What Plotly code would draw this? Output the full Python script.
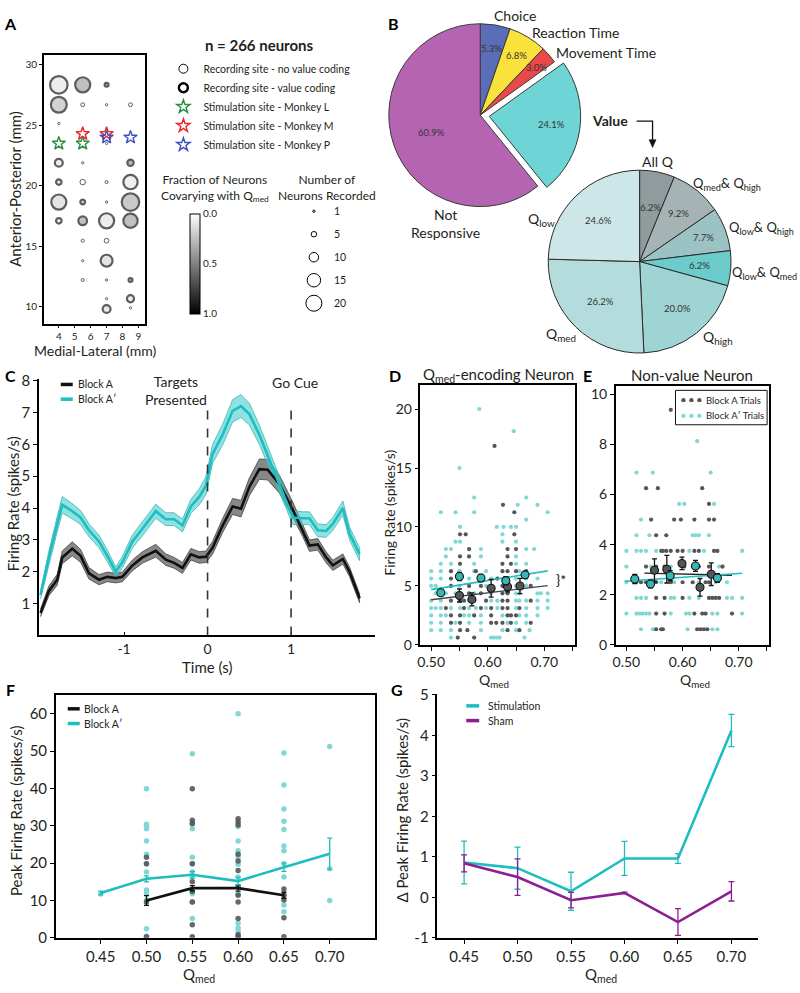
import math
import plotly.graph_objects as go

W, H = 800, 993
def PX(x): return x / W
def PY(y): return 1 - y / H

FONT = "Lato"
TXT = "#231f20"
CYAN = "#1ebdbf"
CYAN_BAND = "rgba(70,205,205,0.6)"
CYAN_DOT = "#80d8d6"
DOT_DARK = "#565656"
GRAY_BAND = "rgba(85,85,85,0.7)"
PURPLE = "#8d1e90"

# ======================= DATA =======================
# ---- Panel A: recording sites ----
A_ml = [4, 4, 4, 4, 4, 4, 4,
        5.5, 5.5, 5.5, 5.5, 5.5, 5.5, 5.5, 5.5, 5.5,
        7, 7, 7, 7, 7, 7, 7, 7, 7, 7, 7,
        8.5, 8.5, 8.5, 8.5, 8.5, 8.5, 8.5, 8.5]
A_ap = [28.35, 26.7, 25.15, 21.9, 20.3, 18.65, 17.1,
        28.35, 26.7, 21.9, 20.3, 18.65, 17.1, 15.45, 13.8, 12.2,
        28.35, 26.7, 23.5, 20.3, 18.65, 17.1, 15.45, 13.8, 12.2, 10.65, 9.8,
        26.7, 21.9, 20.3, 18.65, 17.1, 12.2, 10.65, 9.9]
A_n = [20, 18, 1, 8, 5, 17, 5,
       17, 3, 1, 5, 4, 9, 2, 1, 2,
       3, 1, 1, 2, 1, 17, 4, 13, 1, 1, 8,
       3, 6, 16, 20, 16, 3, 7, 1]
A_frac = [0.1, 0.25, 0, 0.1, 0.15, 0.15, 0.1,
          0.35, 0, 0, 0, 0.2, 0.35, 0, 0, 0,
          0.4, 0, 0, 0, 0, 0.1, 0, 0.15, 0, 0, 0.12,
          0, 0.4, 0.08, 0.3, 0.35, 0.3, 0.1, 0]
STAR_L_ml, STAR_L_ap = [4, 5.5], [23.5, 23.5]
STAR_M_ml, STAR_M_ap = [5.5, 7], [24.3, 24.3]
STAR_P_ml, STAR_P_ap = [7, 8.5], [24.0, 24.0]
SIZE_KEY = [1, 5, 10, 15, 20]
A_xticks = [4, 5, 6, 7, 8, 9]
A_yticks = [10, 15, 20, 25, 30]

# ---- Panel B: pies ----
P1_labels = ["Choice", "Reaction Time", "Movement Time", "Value", "Not Responsive"]
P1_values = [5.3, 6.8, 3.0, 24.1, 60.9]
P1_colors = ["#5b6db6", "#f9e23c", "#ea484b", "#6fd4d6", "#b564b1"]
P1_pull = [0, 0, 0, 0.1, 0]
P2_labels = ["All Q", "Qmed & Qhigh", "Qlow & Qhigh", "Qlow & Qmed", "Qhigh", "Qmed", "Qlow"]
P2_values = [6.2, 9.2, 7.7, 6.2, 20.0, 26.2, 24.6]
P2_colors = ["#8f9b9c", "#a5b3b4", "#9cc3c4", "#6ccbcb", "#9fd4d5", "#b5dcdd", "#cde6e7"]

# ---- Panel C: PSTH ----
C_t = [-2.0, -1.9, -1.8, -1.74, -1.62, -1.52, -1.42, -1.3, -1.2, -1.1, -1.02, -0.9, -0.78,
       -0.62, -0.5, -0.4, -0.3, -0.2, -0.1, -0.02, 0.06, 0.18, 0.3, 0.4, 0.5, 0.62, 0.72,
       0.86, 1.02, 1.14, 1.22, 1.32, 1.42, 1.5, 1.62, 1.7, 1.82]
C_Ap = [1.27, 2.45, 3.5, 4.1, 3.9, 3.7, 3.3, 2.95, 2.5, 2.0, 2.3, 2.95, 3.35,
        3.9, 3.65, 3.65, 3.45, 4.05, 4.35, 4.7, 5.7, 6.3, 7.05, 7.2, 6.95, 6.3, 5.65,
        4.75, 3.7, 3.68, 3.68, 3.3, 3.28, 3.5, 4.0, 3.2, 2.55]
C_Ap_sem = [0.12, 0.2, 0.24, 0.26, 0.24, 0.22, 0.2, 0.2, 0.18, 0.15, 0.18, 0.2, 0.22,
            0.22, 0.2, 0.2, 0.2, 0.22, 0.25, 0.28, 0.3, 0.32, 0.35, 0.36, 0.34, 0.3, 0.28,
            0.25, 0.22, 0.2, 0.2, 0.2, 0.2, 0.2, 0.22, 0.2, 0.2]
C_A = [0.71, 1.4, 1.75, 2.45, 2.72, 2.5, 1.95, 1.75, 1.84, 1.8, 1.84, 2.2, 2.45,
       2.66, 2.38, 2.28, 2.12, 2.55, 2.45, 2.47, 2.75, 3.45, 4.05, 3.98, 4.66, 5.22, 5.2,
       4.75, 3.95, 3.3, 2.82, 2.86, 2.45, 2.2, 2.4, 2.0, 1.17]
C_A_sem = [0.12, 0.15, 0.17, 0.2, 0.22, 0.2, 0.18, 0.16, 0.15, 0.15, 0.15, 0.17, 0.18,
           0.2, 0.18, 0.17, 0.17, 0.18, 0.18, 0.18, 0.2, 0.22, 0.25, 0.26, 0.28, 0.32, 0.32,
           0.28, 0.24, 0.2, 0.18, 0.18, 0.17, 0.16, 0.16, 0.15, 0.14]
C_events = [0, 1]

# ---- Panel D: Qmed-encoding neuron (rows: firing rate, list of Qmed) ----
D_Ap_trials = [
    (0.625, [0.535, 0.606, 0.611, 0.616, 0.621, 0.665]),
    (1.25, [0.500, 0.517, 0.535, 0.588, 0.626, 0.650, 0.674]),
    (1.875, [0.500, 0.517, 0.543, 0.567, 0.588, 0.635, 0.650, 0.668]),
    (2.5, [0.500, 0.517, 0.526, 0.558, 0.567, 0.588, 0.626, 0.656, 0.668, 0.688]),
    (3.125, [0.500, 0.508, 0.517, 0.535, 0.551, 0.567, 0.579, 0.597, 0.617, 0.650, 0.668, 0.688, 0.706]),
    (3.75, [0.500, 0.517, 0.567, 0.606, 0.617, 0.650, 0.656, 0.668, 0.688, 0.706]),
    (4.375, [0.508, 0.526, 0.543, 0.576, 0.606, 0.650, 0.656, 0.688, 0.694, 0.706]),
    (5.0, [0.500, 0.508, 0.550, 0.597, 0.635, 0.650, 0.668]),
    (5.625, [0.500, 0.517, 0.567, 0.606, 0.650, 0.668, 0.688]),
    (6.25, [0.500, 0.517, 0.550, 0.576, 0.597, 0.656]),
    (6.875, [0.517, 0.535, 0.576, 0.650, 0.668]),
    (7.5, [0.526, 0.588, 0.650]),
    (8.125, [0.526, 0.535, 0.588, 0.668, 0.682]),
    (8.75, [0.543, 0.551, 0.626, 0.650]),
    (9.375, [0.626]),
    (10.0, [0.551, 0.616, 0.628, 0.641, 0.650]),
    (10.625, [0.668]),
    (11.25, [0.517, 0.543, 0.576, 0.706]),
    (11.875, [0.653, 0.688]),
    (12.5, [0.576, 0.668]),
    (15.0, [0.550]),
    (18.125, [0.646]),
    (20.0, [0.585]),
]
D_A_trials = [
    (0.625, [0.547, 0.576]),
    (1.25, [0.551, 0.564, 0.635, 0.656]),
    (1.875, [0.535, 0.551, 0.606, 0.615, 0.626, 0.641, 0.676]),
    (2.5, [0.535, 0.551, 0.576, 0.606, 0.635, 0.641, 0.650]),
    (3.125, [0.526, 0.558, 0.588, 0.606, 0.626, 0.635, 0.656]),
    (3.75, [0.535, 0.551, 0.558, 0.576, 0.597, 0.626, 0.635, 0.676]),
    (4.375, [0.517, 0.567, 0.588, 0.626, 0.635]),
    (5.0, [0.535, 0.567, 0.588, 0.626, 0.676]),
    (5.625, [0.535, 0.588, 0.617, 0.635]),
    (6.25, [0.535, 0.579, 0.626, 0.635, 0.650, 0.668]),
    (6.875, [0.551, 0.626, 0.641]),
    (7.5, [0.551, 0.567, 0.635]),
    (8.125, [0.567, 0.635, 0.650]),
    (9.375, [0.551, 0.561, 0.647]),
    (11.25, [0.647]),
    (11.875, [0.627]),
    (16.875, [0.612]),
]
D_mq_Ap = [0.517, 0.550, 0.588, 0.632, 0.666]
D_m_Ap = [4.42, 5.8, 5.67, 5.44, 5.94]
D_e_Ap = [0.2, 0.35, 0.3, 0.35, 0.3]
D_mq_A = [0.550, 0.572, 0.606, 0.635, 0.657]
D_m_A = [4.19, 3.86, 4.81, 4.94, 5.0]
D_e_A = [0.55, 0.55, 0.75, 0.45, 0.65]
D_fit_q = [0.500, 0.706]
D_fit_Ap = [4.69, 6.28]
D_fit_A = [3.83, 5.03]

# ---- Panel E: non-value neuron ----
E_Ap_trials = [
    (0.625, [0.526, 0.547, 0.609, 0.653, 0.662]),
    (1.25, [0.500, 0.518, 0.524, 0.529, 0.535, 0.541, 0.579, 0.606, 0.612, 0.653, 0.662, 0.706]),
    (1.875, [0.518, 0.526, 0.535, 0.579, 0.585, 0.612, 0.629, 0.679, 0.688, 0.706]),
    (2.5, [0.500, 0.518, 0.562, 0.585, 0.629, 0.659, 0.679]),
    (3.125, [0.500, 0.544, 0.579, 0.618, 0.665, 0.671]),
    (3.75, [0.500, 0.518, 0.526, 0.535, 0.553, 0.612, 0.638, 0.706]),
    (4.375, [0.518, 0.541, 0.618, 0.623, 0.629, 0.647]),
    (5.0, [0.526]),
    (5.625, [0.594, 0.603, 0.656]),
    (6.875, [0.518, 0.547, 0.650]),
    (8.125, [0.626]),
]
E_A_trials = [
    (0.625, [0.553, 0.562, 0.565, 0.626, 0.632, 0.638, 0.644]),
    (1.25, [0.553, 0.568, 0.621, 0.635, 0.641, 0.688]),
    (1.875, [0.553, 0.568, 0.600, 0.647, 0.653, 0.659, 0.665]),
    (2.5, [0.526, 0.535, 0.553, 0.579, 0.600, 0.618, 0.641, 0.647]),
    (3.125, [0.535, 0.553, 0.568, 0.603, 0.629, 0.647, 0.671]),
    (3.75, [0.562, 0.565, 0.571, 0.579, 0.591, 0.600, 0.621, 0.629, 0.656, 0.662]),
    (4.375, [0.553, 0.571]),
    (5.0, [0.544, 0.585, 0.597, 0.621, 0.647, 0.656]),
    (5.625, [0.647]),
    (6.25, [0.535, 0.556, 0.635]),
    (9.375, [0.579]),
]
E_mq_Ap = [0.515, 0.543, 0.578, 0.623, 0.662]
E_m_Ap = [2.63, 2.43, 2.76, 3.15, 2.67]
E_e_Ap = [0.18, 0.15, 0.2, 0.22, 0.17]
E_mq_A = [0.550, 0.572, 0.599, 0.631, 0.651]
E_m_A = [2.98, 3.02, 3.25, 2.3, 2.82]
E_e_A = [0.45, 0.55, 0.25, 0.35, 0.45]
E_fit_q_Ap = [0.497, 0.706]
E_fit_Ap = [2.54, 2.86]
E_fit_q_A = [0.532, 0.688]
E_fit_A = [2.86, 2.78]
DE_xticks = [0.50, 0.60, 0.70]
DE_xminor = [0.55, 0.65, 0.75]

# ---- Panel F: peak firing rate ----
F_q = [0.45, 0.50, 0.55, 0.60, 0.65, 0.70]
F_Ap_mean = [12.0, 15.8, 16.9, 15.2, 18.9, 22.5]
F_Ap_err = [0.5, 0.8, 0.9, 1.0, 1.1, 4.2]
F_A_q = [0.50, 0.55, 0.60, 0.65]
F_A_mean = [10.0, 13.3, 13.3, 11.4]
F_A_err = [1.3, 0.7, 0.8, 0.8]
F_Ap_trials = [
    (0.45, [11.7]),
    (0.50, [39.9, 30.4, 29.8, 29.2, 25.9, 22.4, 19.8, 17.6, 12.8, 11.8, 10.1, 2.4, 0.4]),
    (0.55, [49.3, 30.4, 29.2, 21.6, 19.8, 17.6, 16.3, 11.8, 9.6, 5.2]),
    (0.60, [60.0, 29.8, 25.9, 23.3, 21.6, 19.7, 16.3, 11.8, 3.9, 2.6, 1.7]),
    (0.65, [49.5, 40.9, 34.5, 31.2, 29.0, 24.6, 23.3, 19.8, 16.3, 11.4, 8.8, 7.0]),
    (0.70, [51.2, 18.5, 10.0]),
]
F_A_trials = [
    (0.50, [21.6, 19.8, 9.6, 0.3]),
    (0.55, [39.9, 31.5, 30.6, 19.8, 15.0, 12.4, 9.6, 3.5, 0.3]),
    (0.60, [31.9, 31.0, 30.2, 22.4, 20.6, 18.0, 13.6, 11.4, 9.6, 5.2, 0.8, 0.3]),
    (0.65, [13.1, 11.4, 10.1, 5.4, 0.3]),
]

# ---- Panel G: delta peak firing rate ----
G_q = [0.45, 0.50, 0.55, 0.60, 0.65, 0.70]
G_stim = [0.86, 0.72, 0.15, 0.96, 0.96, 4.12]
G_stim_err = [0.53, 0.52, 0.47, 0.42, 0.12, 0.4]
G_sham = [0.84, 0.50, -0.07, 0.11, -0.61, 0.15]
G_sham_err = [0.21, 0.45, 0.19, 0.02, 0.33, 0.24]

# ======================= FIGURE =======================
fig = go.Figure()
annots, shapes = [], []

def T(text, x, y, size=14, xanchor="center", yanchor="middle", bold=False, angle=0, color=TXT):
    annots.append(dict(text=f"<b>{text}</b>" if bold else text, x=PX(x), y=PY(y), xref="paper",
                       yref="paper", showarrow=False, xanchor=xanchor, yanchor=yanchor,
                       textangle=angle, font=dict(family=FONT, size=size, color=color)))

def msize(n):
    return 1.5 + 0.8 * n

def flat(rows, x_is_key=False):
    xs, ys = [], []
    for k, vals in rows:
        for v in vals:
            if x_is_key:
                xs.append(k); ys.append(v)
            else:
                xs.append(v); ys.append(k)
    return xs, ys

# ---------- Panel A ----------
fig.add_trace(go.Scatter(
    x=A_ml, y=A_ap, mode="markers", xaxis="x", yaxis="y", showlegend=False, hoverinfo="skip",
    marker=dict(size=[msize(n) for n in A_n], color=[-f for f in A_frac], cmin=-1, cmax=0,
                colorscale=[[0, "#000000"], [1, "#ffffff"]],
                line=dict(color="#1a1a1a", width=[2.2 if f > 0 else 1.0 for f in A_frac]),
                showscale=True,
                colorbar=dict(x=PX(188), xanchor="left", xpad=0, y=PY(259), yanchor="middle", ypad=0,
                              len=102 / H, thickness=10, outlinecolor="black", outlinewidth=1,
                              tickvals=[-1, -0.5, 0], ticktext=["1.0", "0.5", "0.0"], ticks="",
                              tickfont=dict(family=FONT, size=10, color=TXT)))))
fig.add_trace(go.Scatter(x=[None], y=[None], mode="markers", xaxis="x", yaxis="y",
                         name="Recording site - no value coding", legend="legend",
                         marker=dict(size=9, color="white", line=dict(color="black", width=1))))
fig.add_trace(go.Scatter(x=[None], y=[None], mode="markers", xaxis="x", yaxis="y",
                         name="Recording site - value coding", legend="legend",
                         marker=dict(size=9, color="white", line=dict(color="black", width=2.4))))
for sx, sy, col, nm in [(STAR_L_ml, STAR_L_ap, "#2e8b3e", "Stimulation site - Monkey L"),
                        (STAR_M_ml, STAR_M_ap, "#e8262a", "Stimulation site - Monkey M"),
                        (STAR_P_ml, STAR_P_ap, "#3a4fc0", "Stimulation site - Monkey P")]:
    fig.add_trace(go.Scatter(x=sx, y=sy, mode="markers", xaxis="x", yaxis="y", name=nm,
                             legend="legend", hoverinfo="skip",
                             marker=dict(symbol="star-open", size=10, color=col, line=dict(width=1.4))))
for n in SIZE_KEY:
    fig.add_trace(go.Scatter(x=[None], y=[None], mode="markers", xaxis="x", yaxis="y",
                             name=str(n), legend="legend2", legendgroup=f"s{n}",
                             marker=dict(size=msize(n), color="white", line=dict(color="black", width=1))))

# ---------- Panel B: pies ----------
def pie_domain(cx, cy, R, pulls):
    half = R * (1 + max(pulls))
    return dict(x=[PX(cx - half), PX(cx + half)], y=[PY(cy + half), PY(cy - half)])

P1_cx, P1_cy, P1_R = 479, 108, 93
P2_cx, P2_cy, P2_R = 639, 257, 93
fig.add_trace(go.Pie(values=P1_values, labels=P1_labels, sort=False, direction="clockwise",
                     rotation=0, pull=P1_pull, textinfo="none", hoverinfo="skip", showlegend=False,
                     marker=dict(colors=P1_colors, line=dict(color="#3a3a3a", width=1)),
                     domain=pie_domain(P1_cx, P1_cy, P1_R, P1_pull)))
fig.add_trace(go.Pie(values=P2_values, labels=P2_labels, sort=False, direction="clockwise",
                     rotation=0, textinfo="none", hoverinfo="skip", showlegend=False,
                     marker=dict(colors=P2_colors, line=dict(color="#2a2a2a", width=1)),
                     domain=pie_domain(P2_cx, P2_cy, P2_R, [0])))

def pie_pct(values, cx, cy, R, rfrac, pulls):
    tot = sum(values); cum = 0
    for i, v in enumerate(values):
        th = 2 * math.pi * (cum + v / 2) / tot
        cum += v
        r = R * (rfrac[i] + pulls[i])
        T(f"{v:.1f}%", cx + r * math.sin(th), cy - r * math.cos(th), size=9.5, color="#333333")

pie_pct(P1_values, P1_cx, P1_cy, P1_R, [0.74, 0.76, 0.8, 0.68, 0.56], P1_pull)
pie_pct(P2_values, P2_cx, P2_cy, P2_R, [0.6, 0.67, 0.74, 0.65, 0.66, 0.61, 0.63], [0] * 7)

# ---------- Panel C ----------
def band(t, m, s, fillc, edge, ax, ay):
    up = [a + b for a, b in zip(m, s)]
    lo = [a - b for a, b in zip(m, s)]
    fig.add_trace(go.Scatter(x=t + t[::-1], y=up + lo[::-1], fill="toself", fillcolor=fillc,
                             line=dict(color=edge, width=0.8), mode="lines", xaxis=ax, yaxis=ay,
                             showlegend=False, hoverinfo="skip"))

band(C_t, C_A, C_A_sem, GRAY_BAND, "#444444", "x2", "y2")
band(C_t, C_Ap, C_Ap_sem, CYAN_BAND, "#3fb5b5", "x2", "y2")
fig.add_trace(go.Scatter(x=C_t, y=C_A, mode="lines", line=dict(color="#111111", width=2.6),
                         xaxis="x2", yaxis="y2", showlegend=False, hoverinfo="skip"))
fig.add_trace(go.Scatter(x=C_t, y=C_Ap, mode="lines", line=dict(color=CYAN, width=2.6),
                         xaxis="x2", yaxis="y2", showlegend=False, hoverinfo="skip"))
for ev in C_events:
    shapes.append(dict(type="line", xref="x2", yref="y2", x0=ev, x1=ev, y0=0, y1=7.25,
                       line=dict(color="#333333", width=1.6, dash="dash")))

# ---------- Panels D & E ----------
def trial_panel(rowsAp, rowsA, ax, ay):
    x, y = flat(rowsAp)
    fig.add_trace(go.Scatter(x=x, y=y, mode="markers", xaxis=ax, yaxis=ay, showlegend=False,
                             hoverinfo="skip", marker=dict(size=4.2, color=CYAN_DOT)))
    x, y = flat(rowsA)
    fig.add_trace(go.Scatter(x=x, y=y, mode="markers", xaxis=ax, yaxis=ay, showlegend=False,
                             hoverinfo="skip", marker=dict(size=4.2, color=DOT_DARK)))

def fit_line(q, v, color, width, ax, ay):
    fig.add_trace(go.Scatter(x=q, y=v, mode="lines", line=dict(color=color, width=width),
                             xaxis=ax, yaxis=ay, showlegend=False, hoverinfo="skip"))

def means(q, m, e, fillc, ax, ay):
    fig.add_trace(go.Scatter(x=q, y=m, mode="markers", xaxis=ax, yaxis=ay, showlegend=False,
                             hoverinfo="skip",
                             error_y=dict(type="data", array=e, color="#111111", thickness=1.3, width=2.5),
                             marker=dict(size=8, color=fillc, line=dict(color="#111111", width=1.1))))

trial_panel(D_Ap_trials, D_A_trials, "x3", "y3")
fit_line(D_fit_q, D_fit_A, "#444444", 1.3, "x3", "y3")
fit_line(D_fit_q, D_fit_Ap, CYAN, 1.6, "x3", "y3")
means(D_mq_A, D_m_A, D_e_A, "#555555", "x3", "y3")
means(D_mq_Ap, D_m_Ap, D_e_Ap, "#35b7b7", "x3", "y3")

trial_panel(E_Ap_trials, E_A_trials, "x4", "y4")
fit_line(E_fit_q_A, E_fit_A, "#222222", 1.3, "x4", "y4")
fit_line(E_fit_q_Ap, E_fit_Ap, CYAN, 1.6, "x4", "y4")
means(E_mq_A, E_m_A, E_e_A, "#555555", "x4", "y4")
means(E_mq_Ap, E_m_Ap, E_e_Ap, "#35b7b7", "x4", "y4")

# ---------- Panel F ----------
x, y = flat(F_Ap_trials, x_is_key=True)
fig.add_trace(go.Scatter(x=x, y=y, mode="markers", xaxis="x5", yaxis="y5", showlegend=False,
                         hoverinfo="skip", marker=dict(size=5.5, color=CYAN_DOT)))
x, y = flat(F_A_trials, x_is_key=True)
fig.add_trace(go.Scatter(x=x, y=y, mode="markers", xaxis="x5", yaxis="y5", showlegend=False,
                         hoverinfo="skip", marker=dict(size=5.5, color=DOT_DARK, opacity=0.9)))
fig.add_trace(go.Scatter(x=F_A_q, y=F_A_mean, mode="lines", xaxis="x5", yaxis="y5", showlegend=False,
                         hoverinfo="skip", line=dict(color="#111111", width=2.6),
                         error_y=dict(type="data", array=F_A_err, color="#111111", thickness=1.3, width=2.5)))
fig.add_trace(go.Scatter(x=F_q, y=F_Ap_mean, mode="lines", xaxis="x5", yaxis="y5", showlegend=False,
                         hoverinfo="skip", line=dict(color=CYAN, width=2.6),
                         error_y=dict(type="data", array=F_Ap_err, color=CYAN, thickness=1.3, width=2.5)))

# ---------- Panel G ----------
fig.add_trace(go.Scatter(x=G_q, y=G_stim, mode="lines", xaxis="x6", yaxis="y6", showlegend=False,
                         hoverinfo="skip", line=dict(color=CYAN, width=2.6),
                         error_y=dict(type="data", array=G_stim_err, color=CYAN, thickness=1.3, width=3)))
fig.add_trace(go.Scatter(x=G_q, y=G_sham, mode="lines", xaxis="x6", yaxis="y6", showlegend=False,
                         hoverinfo="skip", line=dict(color=PURPLE, width=2.6),
                         error_y=dict(type="data", array=G_sham_err, color=PURPLE, thickness=1.3, width=3)))

# ======================= AXES =======================
def ax(px0, px1, rng, **kw):
    d = dict(domain=[PX(px0), PX(px1)], range=rng, showgrid=False, zeroline=False, showline=True,
             linecolor="black", linewidth=1.5, ticks="outside", tickcolor="black", ticklen=4,
             tickwidth=1.2, tickfont=dict(family=FONT, size=14, color=TXT), fixedrange=True)
    d.update(kw)
    return d

def ay(py_top, py_bot, rng, **kw):
    return ax(0, 0, rng, **kw) | dict(domain=[PY(py_bot), PY(py_top)])

small = dict(family=FONT, size=10, color=TXT)
big = dict(family=FONT, size=15, color=TXT)
minor_de = dict(tickvals=DE_xminor, ticks="outside", ticklen=4, tickcolor="black", tickwidth=1.2)
layout_axes = dict(
    xaxis=ax(41, 143, [3.06, 9.44], anchor="y", mirror=True, tickvals=A_xticks, ticklen=3, tickfont=small),
    yaxis=ay(47, 320, [8.6, 30.8], anchor="x", mirror=True, tickvals=A_yticks, ticklen=3, tickfont=small),
    xaxis2=ax(36, 373, [-2.02, 2.0], anchor="y2", tickvals=[-1, 0, 1], ticktext=["-1", "0", "1"],
              ticks="inside", tickfont=dict(family=FONT, size=14, color=TXT)),
    yaxis2=ay(376.4, 637.4, [0, 8.05], anchor="x2", tickvals=[1, 2, 3, 4, 5, 6, 7, 8], tickfont=big),
    xaxis3=ax(419, 574, [0.481, 0.754], anchor="y3", mirror=True, tickvals=DE_xticks,
              ticktext=[f"{q:.2f}" for q in DE_xticks], minor=minor_de),
    yaxis3=ay(383, 647, [0, 22], anchor="x3", mirror=True, tickvals=[0, 5, 10, 15, 20]),
    xaxis4=ax(615, 769, [0.481, 0.754], anchor="y4", mirror=True, tickvals=DE_xticks,
              ticktext=[f"{q:.2f}" for q in DE_xticks], minor=minor_de),
    yaxis4=ay(384, 647, [0, 10.31], anchor="x4", mirror=True, tickvals=[0, 2, 4, 6, 8, 10]),
    xaxis5=ax(53, 373, [0.401, 0.749], anchor="y5", mirror=True, tickvals=F_q,
              ticktext=[f"{q:.2f}" for q in F_q], tickfont=big),
    yaxis5=ay(698, 945, [0, 65], anchor="x5", mirror=True, tickvals=[0, 10, 20, 30, 40, 50, 60],
              tickfont=big),
    xaxis6=ax(436, 758, [0.425, 0.725], anchor="y6", tickvals=G_q,
              ticktext=[f"{q:.2f}" for q in G_q], tickfont=big),
    yaxis6=ay(697, 945, [-1, 5.02], anchor="x6", tickvals=[-1, 0, 1, 2, 3, 4, 5],
              ticktext=["-1", "0", "1", "2", "3", "4", "5"], tickfont=big),
)

# ======================= TEXT =======================
for lab, x, y in [("A", 8, 15), ("B", 392, 15), ("C", 8, 373), ("D", 393, 373),
                  ("E", 587, 373), ("F", 8, 692), ("G", 395, 692)]:
    T(lab, x, y, size=16, bold=True, color="#000000")

# Panel A texts
T("n = 266 neurons", 257, 37, size=15, bold=True)
T("Fraction of Neurons<br>Covarying with Q<sub>med</sub>", 213, 182, size=12)
T("Number of<br>Neurons Recorded", 325, 182, size=12)
T("Anterior-Posterior (mm)", 12, 183, size=15, angle=-90)
T("Medial-Lateral (mm)", 93, 347, size=14)

# Pie labels
T("Choice", 514, 7, size=14)
T("Reaction Time", 575, 24, size=14)
T("Movement Time", 605, 44, size=14)
T("Not<br>Responsive", 444, 218, size=14)
T("Value", 609, 113, size=14, bold=True)
shapes.append(dict(type="path", xref="paper", yref="paper",
                   path=f"M{PX(636)},{PY(114)} L{PX(652)},{PY(114)} L{PX(652)},{PY(134)}",
                   line=dict(color="#111111", width=1.3)))
shapes.append(dict(type="path", xref="paper", yref="paper",
                   path=f"M{PX(648.5)},{PY(133)} L{PX(655.5)},{PY(133)} L{PX(652)},{PY(141)} Z",
                   fillcolor="#111111", line=dict(color="#111111", width=0.5)))
T("All Q", 657, 155, size=14)
T("Q<sub>med</sub>& Q<sub>high</sub>", 763, 178, size=13, xanchor="right")
T("Q<sub>low</sub>& Q<sub>high</sub>", 796, 223, size=13, xanchor="right")
T("Q<sub>low</sub>& Q<sub>med</sub>", 799, 269, size=13, xanchor="right")
T("Q<sub>low</sub>", 541, 214, size=14)
T("Q<sub>med</sub>", 560, 331, size=14)
T("Q<sub>high</sub>", 718, 334, size=14)

# Panel C texts
T("Targets<br>Presented", 207, 388, size=14, xanchor="right")
T("Go Cue", 293, 380, size=14)
T("Time (s)", 205, 669, size=15)
T("Firing Rate (spikes/s)", 10, 503, size=15, angle=-90)
for yy, col, lab in [(382, "#111111", "Block A"), (397, CYAN, "Block A′")]:
    shapes.append(dict(type="line", xref="paper", yref="paper", x0=PX(58), x1=PX(70), y0=PY(yy), y1=PY(yy),
                       line=dict(color=col, width=3.5)))
    T(lab, 73, yy, size=10.5, xanchor="left")

# Panel D / E texts
T("Q<sub>med</sub>-encoding Neuron", 497, 372, size=15)
T("Non-value Neuron", 692, 372, size=15)
T("Firing Rate (spikes/s)", 388, 513, size=14, angle=-90)
T("Q<sub>med</sub>", 493, 683, size=14)
T("Q<sub>med</sub>", 695, 683, size=14)
T("}*", 553, 580, size=14, xanchor="left", color="#111111")
shapes.append(dict(type="rect", xref="paper", yref="paper", x0=PX(675), x1=PX(767), y0=PY(423), y1=PY(388),
                   line=dict(color="#111111", width=1), fillcolor="white"))
for yy, col, lab in [(398, DOT_DARK, "Block A Trials"), (414, CYAN_DOT, "Block A′ Trials")]:
    for xx in (683, 691, 699):
        shapes.append(dict(type="circle", xref="paper", yref="paper", x0=PX(xx - 2.2), x1=PX(xx + 2.2),
                           y0=PY(yy + 2.2), y1=PY(yy - 2.2), fillcolor=col, line=dict(width=0)))
    T(lab, 704, yy, size=9.5, xanchor="left")

# Panel F texts
T("Peak Firing Rate (spikes/s)", 13, 815, size=15, angle=-90)
T("Q<sub>med</sub>", 197, 983, size=15)
for yy, col, lab in [(712, "#111111", "Block A"), (727, CYAN, "Block A′")]:
    shapes.append(dict(type="line", xref="paper", yref="paper", x0=PX(65), x1=PX(77), y0=PY(yy), y1=PY(yy),
                       line=dict(color=col, width=3.5)))
    T(lab, 79, yy, size=10.5, xanchor="left")

# Panel G texts
T("Δ Peak Firing Rate (spikes/s)", 401, 815, size=15, angle=-90)
T("Q<sub>med</sub>", 600, 983, size=15)
for yy, col, lab in [(709, CYAN, "Stimulation"), (724, PURPLE, "Sham")]:
    shapes.append(dict(type="line", xref="paper", yref="paper", x0=PX(465), x1=PX(478), y0=PY(yy), y1=PY(yy),
                       line=dict(color=col, width=3.5)))
    T(lab, 485, yy, size=10.5, xanchor="left")

fig.update_layout(
    width=W, height=H, margin=dict(l=0, r=0, t=0, b=0), autosize=False,
    paper_bgcolor="white", plot_bgcolor="white", font=dict(family=FONT, color=TXT),
    showlegend=True,
    legend=dict(x=PX(161), y=PY(46), xanchor="left", yanchor="top", bgcolor="rgba(0,0,0,0)",
                font=dict(family=FONT, size=10.5, color=TXT), tracegroupgap=0, itemclick=False),
    legend2=dict(x=PX(292), y=PY(191), xanchor="left", yanchor="top", bgcolor="rgba(0,0,0,0)",
                 font=dict(family=FONT, size=10.5, color=TXT), tracegroupgap=4, itemclick=False),
    annotations=annots, shapes=shapes,
    **layout_axes,
)
fig.write_html("out.html", config={"displayModeBar": False},
               post_script="document.body.style.margin='0';document.body.style.overflow='hidden';")
